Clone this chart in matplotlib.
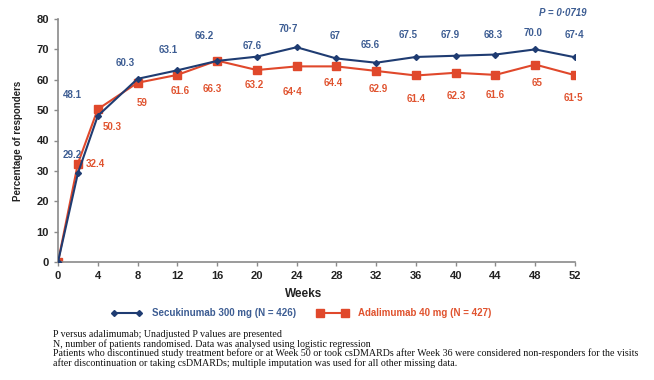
import matplotlib.pyplot as plt
from matplotlib.lines import Line2D

# 数据
weeks = [0, 2, 4, 8, 12, 16, 20, 24, 28, 32, 36, 40, 44, 48, 52]
secukinumab = [0, 29.2, 48.1, 60.3, 63.1, 66.2, 67.6, 70.7, 67, 65.6, 67.5, 67.9, 68.3, 70.0, 67.4]
adalimumab = [0, 32.4, 50.3, 59, 61.6, 66.3, 63.2, 64.4, 64.4, 62.9, 61.4, 62.3, 61.6, 65, 61.5]

sec_labels = ['29.2', '48.1', '60.3', '63.1', '66.2', '67.6', '70·7', '67', '65.6', '67.5', '67.9', '68.3', '70.0', '67·4']
ada_labels = ['32.4', '50.3', '59', '61.6', '66.3', '63.2', '64·4', '64.4', '62.9', '61.4', '62.3', '61.6', '65', '61·5']

# 标签位置（数据坐标）
sec_lab_x = [1.45, 1.4, 6.75, 11.1, 14.7, 19.5, 23.2, 27.9, 31.4, 35.2, 39.4, 43.8, 47.8, 51.9]
sec_lab_y = [35.2, 55.0, 65.5, 69.8, 74.4, 71.1, 76.7, 74.4, 71.4, 74.7, 74.7, 74.7, 75.4, 74.7]
ada_lab_x = [3.8, 5.4, 8.5, 12.3, 15.5, 19.7, 23.6, 27.7, 32.2, 36.0, 40.1, 44.0, 48.2, 51.8]
ada_lab_y = [32.3, 44.4, 52.3, 56.3, 57.0, 58.3, 56.0, 58.9, 57.0, 53.7, 54.7, 55.0, 58.9, 54.0]

blue = '#1f3c72'
blue_txt = '#3d5d93'
red = '#e0482b'
red_txt = '#e0532f'
grey = '#8a8a8a'

plt.rcParams['font.family'] = ['Liberation Sans', 'DejaVu Sans']
plt.rcParams['font.weight'] = 'bold'

fig = plt.figure(figsize=(6.54, 3.8), dpi=100)
ax = fig.add_axes([58 / 654, 1 - 262 / 380, (575 - 58) / 654, (262 - 19) / 380])

ax.plot(weeks, adalimumab, color=red, lw=1.5, marker='s', ms=5.5, zorder=2)
ax.plot(weeks, secukinumab, color=blue, lw=1.5, marker='D', ms=3, zorder=3)

for x, y, t in zip(sec_lab_x, sec_lab_y, sec_labels):
    ax.text(x, y, t, color=blue_txt, fontsize=7, fontweight='bold', ha='center', va='center')
for x, y, t in zip(ada_lab_x, ada_lab_y, ada_labels):
    ax.text(x, y, t, color=red_txt, fontsize=7, fontweight='bold', ha='center', va='center')

ax.text(53.2, 82, 'P = 0·0719', color=blue_txt, fontsize=7, fontweight='bold', style='italic',
        ha='right', va='center', clip_on=False)

ax.set_xlim(0, 52)
ax.set_ylim(0, 80)
ax.set_xticks(range(0, 53, 4))
ax.set_yticks(range(0, 81, 10))
for s in ['top', 'right']:
    ax.spines[s].set_visible(False)
for s in ['left', 'bottom']:
    ax.spines[s].set_color(grey)
    ax.spines[s].set_linewidth(1.2)
ax.tick_params(colors=grey, length=3, width=1, labelsize=8, labelcolor='#222222')
for lab in ax.get_xticklabels() + ax.get_yticklabels():
    lab.set_fontweight('bold')
ax.set_ylabel('Percentage of responders', fontsize=7, fontweight='bold', color='#222222', labelpad=10)

fig.text(304 / 654, 1 - 294 / 380, 'Weeks', fontsize=8.5, fontweight='bold', color='#222222',
         ha='center', va='center')

handles = [Line2D([], [], color=blue, lw=1.5, marker='D', ms=3),
           Line2D([], [], color=red, lw=1.5, marker='s', ms=5.5)]
leg = fig.legend(handles, ['Secukinumab 300 mg (N = 426)', 'Adalimumab 40 mg (N = 427)'],
                 loc='center', bbox_to_anchor=(301 / 654, 1 - 313 / 380), ncol=2, frameon=False,
                 fontsize=7, handlelength=3.2, columnspacing=2.2, handletextpad=1.0, numpoints=2)
for t, c in zip(leg.get_texts(), [blue_txt, red_txt]):
    t.set_color(c)
    t.set_fontweight('bold')

notes = ['P versus adalimumab; Unadjusted P values are presented',
         'N, number of patients randomised. Data was analysed using logistic regression',
         'Patients who discontinued study treatment before or at Week 50 or took csDMARDs after Week 36 '
         'were considered non-responders for the visits',
         'after discontinuation or taking csDMARDs; multiple imputation was used for all other missing data.']
note_y = [334.5, 344, 353.5, 363]
for t, y in zip(notes, note_y):
    fig.text(53 / 654, 1 - y / 380, t, fontsize=7.2, family='Liberation Serif', fontweight='normal',
             color='#111111', ha='left', va='center')

fig.savefig('out.png', dpi=100)
